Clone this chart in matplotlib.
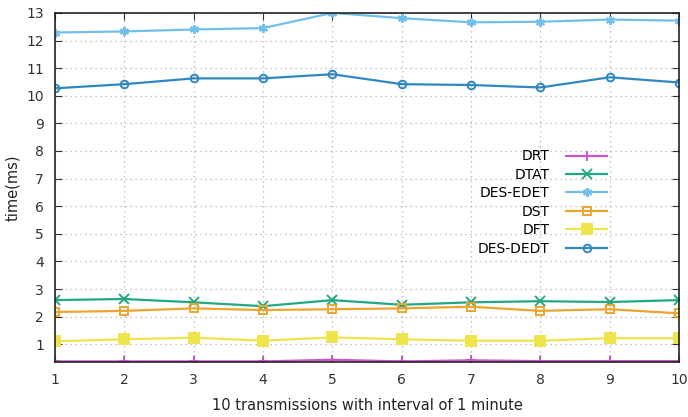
import matplotlib.pyplot as plt

x = list(range(1, 11))

drt = [0.38, 0.38, 0.38, 0.38, 0.44, 0.38, 0.42, 0.39, 0.39, 0.39]
dtat = [2.60, 2.64, 2.52, 2.38, 2.60, 2.43, 2.52, 2.56, 2.53, 2.60]
des_edet = [12.29, 12.33, 12.40, 12.45, 13.00, 12.81, 12.66, 12.68, 12.76, 12.72]
dst = [2.17, 2.21, 2.30, 2.24, 2.27, 2.30, 2.36, 2.21, 2.27, 2.12]
dft = [1.11, 1.18, 1.24, 1.13, 1.25, 1.18, 1.13, 1.13, 1.22, 1.22]
des_dedt = [10.27, 10.42, 10.63, 10.63, 10.78, 10.42, 10.39, 10.30, 10.67, 10.48]

series = [
    ("DRT", drt, "#cc55cc", "+", "none"),
    ("DTAT", dtat, "#22a884", "x", "none"),
    ("DES-EDET", des_edet, "#72c0ea", (6, 2, 0), "none"),
    ("DST", dst, "#eca52e", "s", "open"),
    ("DFT", dft, "#eee44e", "s", "full"),
    ("DES-DEDT", des_dedt, "#3088c2", "o", "open"),
]

plt.rcParams['font.family'] = ['DejaVu Sans']
fig = plt.figure(figsize=(6.88, 4.17), dpi=100)
ax = fig.add_axes([0.080, 0.132, 0.907, 0.837])

for name, vals, col, mk, fill in series:
    kw = dict(color=col, lw=1.6, marker=mk, markersize=6.5, label=name,
              markeredgewidth=1.4)
    if fill == "open":
        kw["markerfacecolor"] = "none"
        kw["markersize"] = 5.5
    ax.plot(x, vals, **kw)

ax.set_xlim(1, 10)
ax.set_ylim(0.36, 13)
ax.set_xticks(x)
ax.set_yticks(range(1, 14))
ax.tick_params(direction="in", top=True, right=True, length=5,
               labelsize=10, colors="#333333", pad=8)
ax.grid(True, linestyle=(0, (1, 3)), color="#b0b0b0", lw=0.9)
for s in ax.spines.values():
    s.set_color("#222222")
    s.set_linewidth(1.2)

ax.set_xlabel("10 transmissions with interval of 1 minute", fontsize=10.5,
              color="#222222", labelpad=8)
ax.set_ylabel("time(ms)", fontsize=10.5, color="#222222", labelpad=4)

ax.legend(loc="upper right", bbox_to_anchor=(0.893, 0.625), frameon=False,
          markerfirst=False, handlelength=2.9, fontsize=10,
          labelspacing=0.32, borderaxespad=0, handletextpad=1.2)

fig.savefig("out.png", dpi=100)
